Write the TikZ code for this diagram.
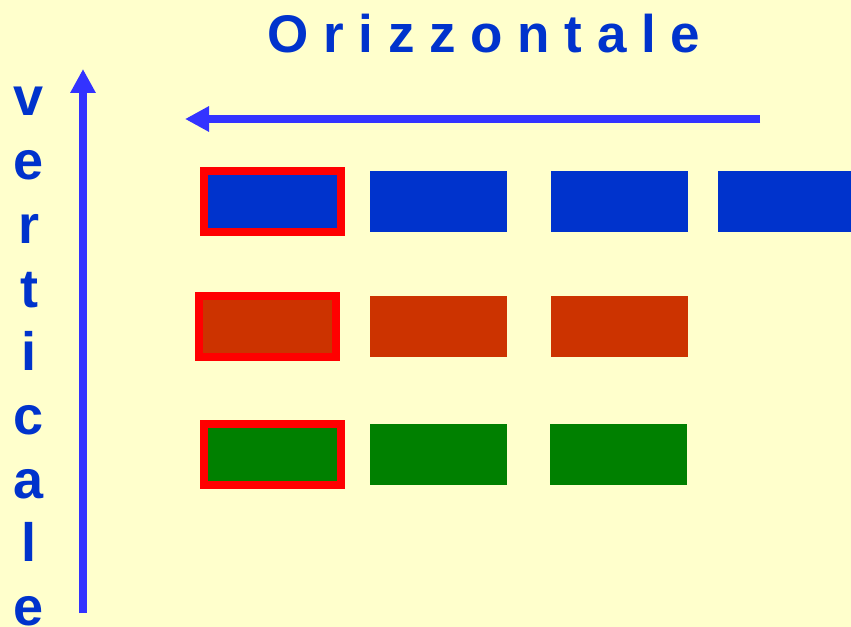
\documentclass[tikz,border=0pt]{standalone}
\usepackage{fontspec}
\setmainfont{Liberation Sans}
\usepackage{xcolor}
\usepackage{tikz}
\usetikzlibrary{arrows.meta}

\definecolor{paper}{HTML}{FFFFCC}
\definecolor{textblue}{HTML}{0033CC}
\definecolor{arrowblue}{HTML}{3333FF}
\definecolor{rowblue}{HTML}{0033CC}
\definecolor{rowrust}{HTML}{CC3300}
\definecolor{rowgreen}{HTML}{008000}

\begin{document}
\begin{tikzpicture}[x=1bp,y=-1bp,
  cell/.style={rectangle, inner sep=0pt, minimum width=137bp, minimum height=61bp},
  marked/.style={cell, draw=red, line width=8bp},
  letter/.style={font=\fontsize{54bp}{60bp}\selectfont\bfseries, text=textblue, anchor=base, inner sep=0pt},
  axis/.style={arrowblue, line width=8bp, -{Triangle[length=24bp,width=24bp]}}]
% Page
\clip (0,0) rectangle (851,627);
\fill[paper] (0,0) rectangle (851,627);

% Title
\node[letter, font=\fontsize{53bp}{60bp}\selectfont\bfseries] (title) at (484,53) {O r i z z o n t a l e};

% Vertical word
\foreach \ch [count=\i] in {v,e,r,t,i,c,a,l,e}
  \node[letter] (vl\i) at (29,{116+63.7*(\i-1)}) {\ch};

% Axes
\coordinate (hstart) at (760,119);
\coordinate (hend) at (185,119);
\coordinate (vstart) at (83,613);
\coordinate (vend) at (83,69);
\draw[axis] (hstart) -- (hend);
\draw[axis] (vstart) -- (vend);

% Row 1
\node[marked, fill=rowblue] (b1) at (272,201.5) {};
\node[cell, fill=rowblue] (b2) at (438.5,201.5) {};
\node[cell, fill=rowblue] (b3) at (619.5,201.5) {};
\node[cell, fill=rowblue] (b4) at (786.5,201.5) {};

% Row 2
\node[marked, fill=rowrust] (r1) at (267,326) {};
\node[cell, fill=rowrust] (r2) at (438.5,326.5) {};
\node[cell, fill=rowrust] (r3) at (619.5,326.5) {};

% Row 3
\node[marked, fill=rowgreen] (g1) at (272,454) {};
\node[cell, fill=rowgreen] (g2) at (438.5,454.5) {};
\node[cell, fill=rowgreen] (g3) at (618.5,454.5) {};
\end{tikzpicture}
\end{document}
